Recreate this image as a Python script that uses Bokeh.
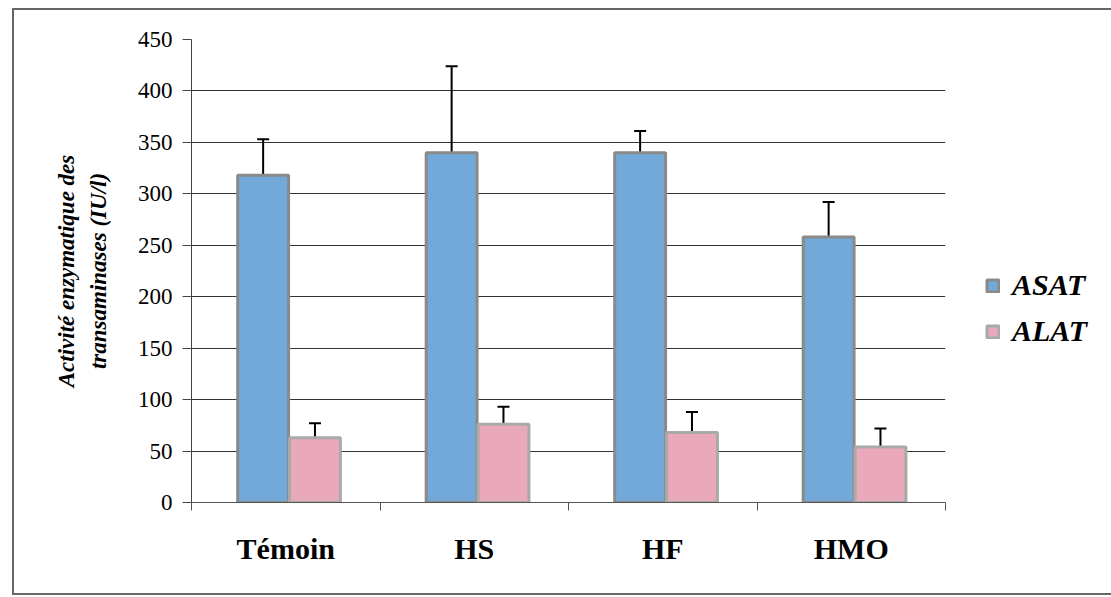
from bokeh.plotting import figure
from bokeh.models import (ColumnDataSource, FixedTicker, Whisker, TeeHead, Legend,
                          LegendItem, Range1d)
from bokeh.embed import file_html
from bokeh.resources import INLINE
import numpy as np

categories = ["Témoin", "HS", "HF", "HMO"]
asat = [318, 340, 340, 258]
asat_err = [35, 84, 21, 34]
alat = [63, 76, 68, 54]
alat_err = [14, 17, 20, 18]
y_ticks = [0, 50, 100, 150, 200, 250, 300, 350, 400, 450]

idx = np.arange(len(categories))
src_asat = ColumnDataSource(dict(x=idx + 0.38, top=asat,
                                 upper=[v + e for v, e in zip(asat, asat_err)]))
src_alat = ColumnDataSource(dict(x=idx + 0.655, top=alat,
                                 upper=[v + e for v, e in zip(alat, alat_err)]))

p = figure(frame_width=754, frame_height=463, output_backend="svg", toolbar_location=None,
           x_range=Range1d(0, len(categories)), y_range=Range1d(0, 450),
           min_border_left=177, min_border_right=163, min_border_top=29,
           min_border_bottom=91)

p.outline_line_color = None
p.background_fill_color = "white"
p.border_fill_color = "white"

r1 = p.vbar(x="x", top="top", width=0.27, source=src_asat, fill_color="#72a9d8",
            line_color="#8a8a8a", line_width=3)
r2 = p.vbar(x="x", top="top", width=0.27, source=src_alat, fill_color="#eaa8bb",
            line_color="#a9a9a9", line_width=3)

for s in (src_asat, src_alat):
    w = Whisker(base="x", lower="top", upper="upper", source=s,
                line_color="black", line_width=2,
                upper_head=TeeHead(size=12, line_color="black", line_width=2),
                lower_head=None)
    p.add_layout(w)

# axes
p.xaxis.ticker = FixedTicker(ticks=list(idx + 0.5), minor_ticks=list(range(len(categories) + 1)))
p.xaxis.major_label_overrides = {float(i + 0.5): c for i, c in enumerate(categories)}
p.xaxis.major_tick_line_color = None
p.xaxis.minor_tick_out = 8
p.xaxis.minor_tick_in = 0
p.xaxis.minor_tick_line_color = "#555555"
p.xaxis.axis_line_color = "#555555"
p.xaxis.major_label_text_font = "Liberation Serif"
p.xaxis.major_label_text_font_style = "bold"
p.xaxis.major_label_text_font_size = "30px"
p.xaxis.major_label_text_color = "black"
p.xaxis.major_label_standoff = 21

p.yaxis.ticker = FixedTicker(ticks=y_ticks)
p.yaxis.minor_tick_line_color = None
p.yaxis.major_tick_out = 9
p.yaxis.major_tick_in = 0
p.yaxis.major_tick_line_color = "#444444"
p.yaxis.axis_line_color = "#444444"
p.yaxis.major_label_text_font = "Liberation Serif"
p.yaxis.major_label_text_font_size = "23px"
p.yaxis.major_label_text_color = "black"
p.yaxis.major_label_standoff = 10
p.yaxis.axis_label = "Activité enzymatique des\ntransaminases (IU/l)"
p.yaxis.axis_label_text_font = "Liberation Serif"
p.yaxis.axis_label_text_font_style = "bold italic"
p.yaxis.axis_label_text_font_size = "23px"
p.yaxis.axis_label_text_color = "black"
p.yaxis.axis_label_text_line_height = 1.3
p.yaxis.axis_label_standoff = 24

p.xgrid.grid_line_color = None
p.ygrid.grid_line_color = "#333333"
p.ygrid.grid_line_width = 1

legend = Legend(items=[LegendItem(label="ASAT", renderers=[r1]),
                       LegendItem(label="ALAT", renderers=[r2])],
                location=(40, 154), border_line_color=None,
                background_fill_alpha=0, glyph_width=15, glyph_height=15,
                label_text_font="Liberation Serif", label_text_font_style="bold italic",
                label_text_font_size="30px", label_text_color="black",
                spacing=12, label_standoff=12, padding=5, margin=0)
p.add_layout(legend, "right")

p.margin = (8, 0, 0, 12)
p.styles = {"border": "2px solid #666666"}

open("out.html", "w").write(file_html(p, INLINE))
